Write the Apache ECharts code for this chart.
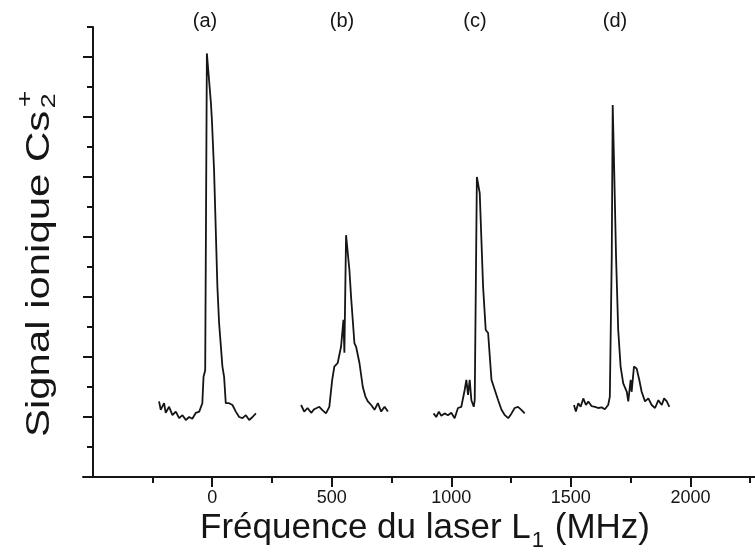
<!DOCTYPE html>
<html>
<head>
<meta charset="utf-8">
<script src="https://cdn.jsdelivr.net/npm/echarts@6/dist/echarts.min.js"></script>
<style>
  html, body { margin: 0; padding: 0; background: #fff; }
  #chart { width: 755px; height: 558px; }
</style>
</head>
<body>
<div id="chart"></div>
<script>
// frequences (MHz) et signal (u.a.)
var peakNames = ['(a)', '(b)', '(c)', '(d)'];

var freqA = [-222,-215,-201,-194,-180,-166,-152,-138,-124,-110,-96,-83,-68,-54,-41,-36,-29,-22,-5,-1,8,22,29,43,50,57,71,85,99,113,127,141,155,169,183];
var sigA  = [1.26,1.12,1.23,1.07,1.17,1.03,1.09,0.98,1.03,0.95,1.0,0.97,1.07,1.09,1.23,1.67,1.78,7.06,6.23,5.95,5.12,3.17,2.57,1.84,1.67,1.23,1.23,1.2,1.09,1.0,0.98,1.03,0.95,1.0,1.06];

var freqB = [372,385,399,414,427,448,462,476,490,502,511,525,539,549,553,560,574,581,595,602,616,630,641,651,665,679,693,707,721,735];
var sigB  = [1.2,1.09,1.15,1.07,1.13,1.17,1.11,1.06,1.17,1.62,1.84,1.9,2.17,2.62,2.07,4.03,3.45,3.0,2.23,2.17,1.9,1.5,1.34,1.26,1.2,1.12,1.23,1.09,1.17,1.09];

var freqC = [926,937,948,958,972,986,1000,1014,1028,1042,1056,1063,1070,1077,1084,1094,1098,1107,1119,1133,1144,1154,1168,1182,1196,1210,1224,1238,1252,1265,1279,1293,1307];
var sigC  = [1.06,1.0,1.09,1.02,1.06,1.03,1.07,0.98,1.15,1.17,1.45,1.62,1.37,1.62,1.28,1.17,1.28,5.0,4.73,3.17,2.45,2.4,1.62,1.45,1.28,1.12,1.03,0.98,1.06,1.15,1.17,1.12,1.06];

var freqD = [1513,1521,1531,1541,1552,1563,1573,1587,1601,1614,1629,1642,1656,1663,1671,1675,1680,1689,1698,1708,1719,1734,1740,1750,1754,1764,1775,1786,1796,1810,1824,1838,1852,1866,1880,1890,1901,1912];
var sigD  = [1.2,1.09,1.23,1.17,1.31,1.2,1.26,1.18,1.17,1.15,1.16,1.13,1.2,1.34,3.67,6.2,5.34,3.67,2.45,1.84,1.56,1.42,1.26,1.62,1.42,1.84,1.81,1.62,1.42,1.26,1.31,1.2,1.15,1.28,1.2,1.31,1.26,1.17];

var xMajor = [0, 500, 1000, 1500, 2000];
var xMinor = [-250, 250, 750, 1250, 1750, 2250];
var yMajor = [1, 2, 3, 4, 5, 6, 7];
var yMinor = [0.5, 1.5, 2.5, 3.5, 4.5, 5.5, 6.5, 7.5];

var FONT = '"Liberation Sans", Arial, sans-serif';
var INK = '#151515';

function zip(xs, ys) {
  var out = [];
  for (var i = 0; i < xs.length; i++) out.push([xs[i], ys[i]]);
  return out;
}

var ctx = document.createElement('canvas').getContext('2d');
function textW(t, size) {
  ctx.font = size + 'px ' + FONT;
  return ctx.measureText(t).width;
}

var dom = document.getElementById('chart');
var myChart = echarts.init(dom);

// titre de l'axe x : "Fréquence du laser L1 (MHz)"
var xs = 35, xsub = 22;
var xp1 = 'Fréquence du laser L', xp2 = '1', xp3 = ' (MHz)';
var xTot = textW(xp1, xs) + textW(xp2, xsub) + 2 + textW(xp3, xs);
var x0 = 425 - xTot / 2;
var x1 = x0 + textW(xp1, xs) + 1;
var x2 = x1 + textW(xp2, xsub) + 1;

// titre de l'axe y : "Signal ionique Cs2+"
var ys = 33;
var yMain = 'Signal ionique Cs';
var yW = textW(yMain, ys);

option = {
  animation: false,
  backgroundColor: '#fff',
  // l'axe x deborde un peu a gauche de l'axe y, comme sur l'original
  grid: { left: 83, right: 0, top: 27, bottom: 81, containLabel: false },
  xAxis: [
    {
      type: 'value', position: 'bottom', min: -540, max: 2270,
      axisLine: { show: true, onZero: false, lineStyle: { color: INK, width: 2 } },
      axisTick: { show: true, customValues: xMajor, length: 10, lineStyle: { color: INK, width: 2 } },
      axisLabel: {
        customValues: xMajor, margin: 12, fontSize: 18, color: INK, fontFamily: FONT,
        formatter: function (v) { return String(v); }
      },
      splitLine: { show: false }
    },
    {
      type: 'value', position: 'bottom', min: -540, max: 2270,
      axisLine: { show: false, onZero: false },
      axisTick: { show: true, customValues: xMinor, length: 6, lineStyle: { color: INK, width: 2 } },
      axisLabel: { show: false },
      splitLine: { show: false }
    }
  ],
  yAxis: [
    {
      type: 'value', position: 'left', offset: -10, min: 0, max: 7.5,
      axisLine: { show: true, onZero: false, lineStyle: { color: INK, width: 2 } },
      axisTick: { show: true, customValues: yMajor, length: 10, lineStyle: { color: INK, width: 2 } },
      axisLabel: { show: false },
      splitLine: { show: false }
    },
    {
      type: 'value', position: 'left', offset: -10, min: 0, max: 7.5,
      axisLine: { show: false, onZero: false },
      axisTick: { show: true, customValues: yMinor, length: 6, lineStyle: { color: INK, width: 2 } },
      axisLabel: { show: false },
      splitLine: { show: false }
    }
  ],
  series: [
    { name: peakNames[0], data: zip(freqA, sigA) },
    { name: peakNames[1], data: zip(freqB, sigB) },
    { name: peakNames[2], data: zip(freqC, sigC) },
    { name: peakNames[3], data: zip(freqD, sigD) }
  ].map(function (s) {
    return {
      name: s.name, type: 'line', data: s.data,
      xAxisIndex: 0, yAxisIndex: 0,
      showSymbol: false, smooth: false,
      lineStyle: { color: INK, width: 1.8 }
    };
  }),
  graphic: [
    // lettres au-dessus des pics
    { type: 'text', x: 205, y: 21, style: { text: peakNames[0], font: '20px ' + FONT, fill: INK, align: 'center', verticalAlign: 'middle' } },
    { type: 'text', x: 342, y: 21, style: { text: peakNames[1], font: '20px ' + FONT, fill: INK, align: 'center', verticalAlign: 'middle' } },
    { type: 'text', x: 475, y: 21, style: { text: peakNames[2], font: '20px ' + FONT, fill: INK, align: 'center', verticalAlign: 'middle' } },
    { type: 'text', x: 615, y: 21, style: { text: peakNames[3], font: '20px ' + FONT, fill: INK, align: 'center', verticalAlign: 'middle' } },
    // titre x
    { type: 'text', x: x0, y: 528, style: { text: xp1, font: xs + 'px ' + FONT, fill: INK, align: 'left', verticalAlign: 'middle' } },
    { type: 'text', x: x1, y: 541, style: { text: xp2, font: xsub + 'px ' + FONT, fill: INK, align: 'left', verticalAlign: 'middle' } },
    { type: 'text', x: x2, y: 528, style: { text: xp3, font: xs + 'px ' + FONT, fill: INK, align: 'left', verticalAlign: 'middle' } },
    // titre y (tourne)
    {
      type: 'group', x: 40, y: 437, rotation: Math.PI / 2, scaleX: 1.27,
      children: [
        { type: 'text', x: 0, y: 0, style: { text: yMain, font: ys + 'px ' + FONT, fill: INK, align: 'left', verticalAlign: 'middle' } },
        { type: 'text', x: yW + 2, y: 9, style: { text: '2', font: '21px ' + FONT, fill: INK, align: 'left', verticalAlign: 'middle' } },
        { type: 'text', x: yW + 3, y: -14, style: { text: '+', font: '22px ' + FONT, fill: INK, align: 'left', verticalAlign: 'middle' } }
      ]
    }
  ]
};

if (option && typeof option === "object") {
  myChart.setOption(option, true);
}
</script>
</body>
</html>
